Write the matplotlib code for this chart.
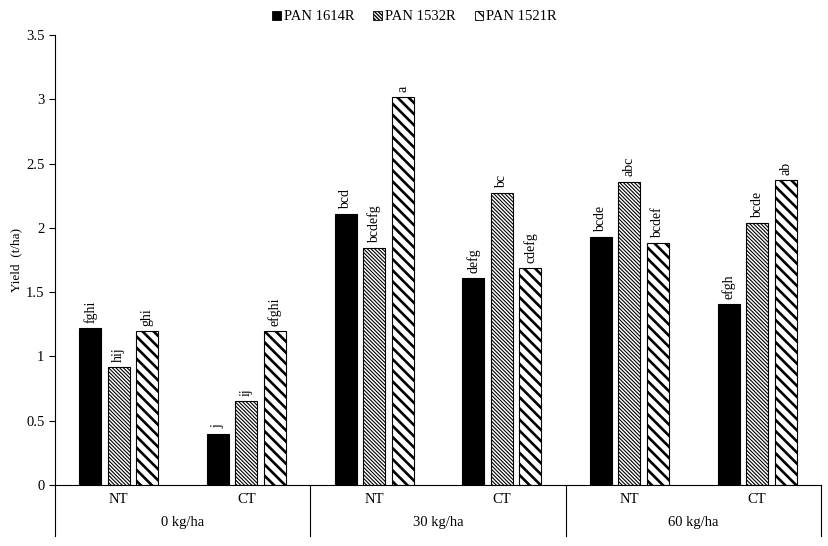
import numpy as np
import matplotlib
matplotlib.use("Agg")
import matplotlib.pyplot as plt
from matplotlib.patches import Patch

plt.rcParams['font.family'] = ['Liberation Serif', 'DejaVu Serif']

# data
groups = ['0 kg/ha', '30 kg/ha', '60 kg/ha']
tillage = ['NT', 'CT']
cultivars = ['PAN 1614R', 'PAN 1532R', 'PAN 1521R']
yield_1614 = [1.22, 0.40, 2.11, 1.61, 1.93, 1.41]
yield_1532 = [0.92, 0.65, 1.84, 2.27, 2.36, 2.04]
yield_1521 = [1.20, 1.20, 3.02, 1.69, 1.88, 2.37]
letters_1614 = ['fghi', 'j', 'bcd', 'defg', 'bcde', 'efgh']
letters_1532 = ['hij', 'ij', 'bcdefg', 'bc', 'abc', 'bcde']
letters_1521 = ['ghi', 'efghi', 'a', 'cdefg', 'bcdef', 'ab']

series = [yield_1614, yield_1532, yield_1521]
letters = [letters_1614, letters_1532, letters_1521]
styles = [dict(color='black', hatch=None, hlw=1.0),
          dict(color='white', hatch='\\' * 9, hlw=0.8),
          dict(color='white', hatch='\\' * 3, hlw=1.9)]

fig = plt.figure(figsize=(8.29, 5.46), dpi=100)
ax = fig.add_axes([0.0663, 0.1117, 0.924, 0.8242])

x = np.arange(len(yield_1614))
w = 0.172
step = 0.223
handles = []
for i, (vals, labs, st) in enumerate(zip(series, letters, styles)):
    pos = x + (i - 1) * step
    bars = ax.bar(pos, vals, w, color=st['color'], edgecolor='black',
                  linewidth=0.8, hatch=st['hatch'])
    for b in bars:
        if hasattr(b, 'set_hatch_linewidth'):
            b.set_hatch_linewidth(st['hlw'])
    for p, v, t in zip(pos, vals, labs):
        ax.text(p, v + 0.04, t, rotation=90, ha='center', va='bottom', fontsize=10)
    h = Patch(facecolor=st['color'], edgecolor='black', linewidth=0.6, hatch=st['hatch'])
    handles.append(h)

ax.set_xlim(-0.5, len(x) - 0.5)
ax.set_ylim(0, 3.5)
ax.set_yticks(np.arange(0, 3.51, 0.5))
ax.set_yticklabels(['0', '0.5', '1', '1.5', '2', '2.5', '3', '3.5'], fontsize=10.5)
ax.tick_params(axis='y', direction='out', length=4, width=0.8)
ax.set_xticks([])
ax.spines['top'].set_visible(False)
ax.spines['right'].set_visible(False)
ax.spines['left'].set_linewidth(0.8)
ax.spines['bottom'].set_linewidth(0.8)
ax.set_ylabel('Yield  (t/ha)', fontsize=9.5)
ax.yaxis.set_label_coords(-0.043, 0.5)

# two-level category axis below the plot
for i in range(len(x)):
    ax.text(i, -0.06, tillage[i % 2], ha='center', va='top', fontsize=10.5)
for g, name in enumerate(groups):
    ax.text(2 * g + 0.5, -0.24, name, ha='center', va='top', fontsize=10.5)
for sx in [-0.5, 1.5, 3.5, 5.5]:
    ax.plot([sx, sx], [0, -0.40], color='black', linewidth=0.8, clip_on=False)

fig.legend(handles, cultivars, loc='upper center', bbox_to_anchor=(0.5, 1.005),
           ncol=3, frameon=False, fontsize=10.5, handlelength=0.6, handleheight=0.6,
           handletextpad=0.2, columnspacing=1.3)

fig.savefig('out.png', dpi=100)
